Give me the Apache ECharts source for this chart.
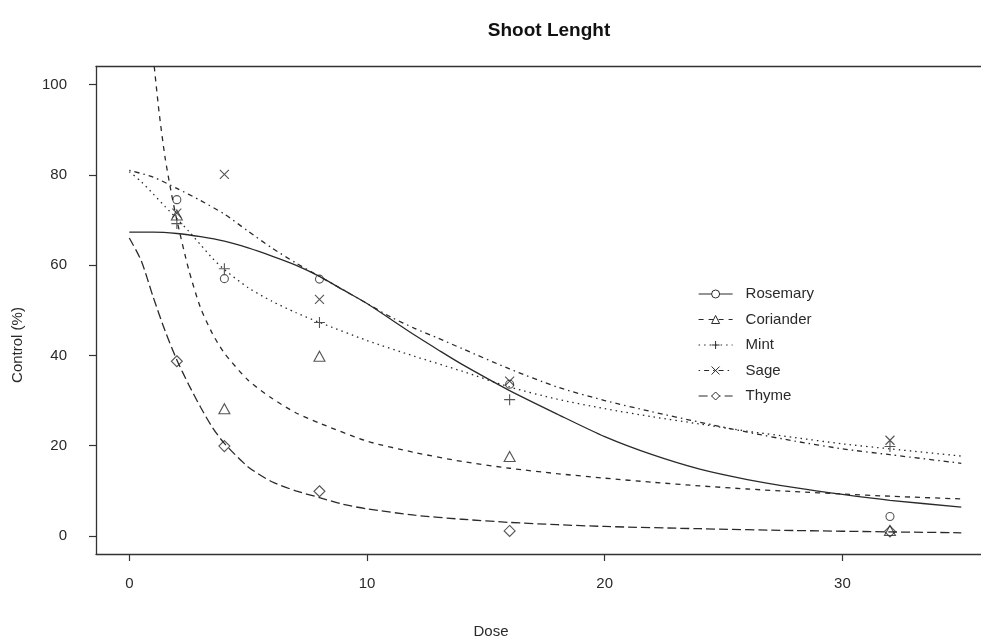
<!DOCTYPE html>
<html>
<head>
<meta charset="utf-8">
<script src="https://cdn.jsdelivr.net/npm/echarts@6/dist/echarts.min.js"></script>
<style>
html,body{margin:0;padding:0;background:#fff;}
#chart{width:981px;height:639px;}
</style>
</head>
<body>
<div id="chart"></div>
<script>
// ---- Observed data points ----
var doses = [2, 4, 8, 16, 32];
var rosemaryPts  = [74.5, 57.0, 56.9, 33.6, 4.3];
var corianderPts = [71.1, 28.2, 39.8, 17.6, 1.2];
var mintPts      = [69.2, 59.2, 47.3, 30.2, 19.8];
var sagePts      = [71.5, 80.1, 52.4, 34.3, 21.2];
var thymePts     = [38.7, 19.9, 9.9, 1.1, 1.0];

// ---- Fitted curves ----
var rosemaryCurveX = [0, 1, 2, 3, 4, 5, 6, 7, 8, 9, 10, 11, 12, 13, 14, 16, 18, 20, 22, 24, 26, 28, 30, 32, 35];
var rosemaryCurveY = [67.3, 67.3, 67.0, 66.3, 65.3, 63.8, 62.0, 60.0, 57.5, 54.5, 51.5, 48.0, 44.5, 41.2, 38.0, 32.2, 27.0, 22.0, 18.0, 14.8, 12.5, 10.7, 9.2, 7.9, 6.4];

var corianderCurveX = [1.05, 1.25, 1.5, 1.75, 2, 2.5, 3, 3.5, 4, 5, 6, 7, 8, 10, 12, 14, 16, 18, 20, 22, 24, 26, 28, 30, 32, 35];
var corianderCurveY = [104, 94, 84, 76.5, 70, 59, 50.5, 44.8, 40.5, 34.5, 30.5, 27.3, 25, 21, 18.5, 16.5, 15, 13.8, 12.8, 11.9, 11.1, 10.4, 9.8, 9.3, 8.8, 8.2];

var mintCurveX = [0, 0.5, 1, 1.5, 2, 2.5, 3, 3.5, 4, 5, 6, 7, 8, 10, 12, 14, 16, 18, 20, 22, 24, 26, 28, 30, 32, 35];
var mintCurveY = [80.7, 78.5, 75.8, 73.0, 70.3, 67.5, 64.5, 61.5, 59.0, 55.0, 52.0, 49.5, 47.3, 43.3, 39.8, 36.5, 33.0, 30.3, 28.2, 26.4, 24.8, 23.2, 21.8, 20.4, 19.3, 17.7];

var sageCurveX = [0, 1, 2, 3, 4, 5, 6, 7, 8, 9, 10, 11, 12, 13, 14, 16, 18, 20, 22, 24, 26, 28, 30, 32, 35];
var sageCurveY = [81.0, 79.5, 77.0, 74.3, 71.3, 67.5, 63.8, 60.5, 57.5, 54.5, 51.5, 48.5, 46.0, 43.8, 41.5, 37.0, 33.0, 30.0, 27.5, 25.2, 23.0, 21.0, 19.3, 18.0, 16.1];

var thymeCurveX = [0, 0.5, 1, 1.5, 2, 2.5, 3, 3.5, 4, 5, 6, 7, 8, 9, 10, 12, 14, 16, 18, 20, 24, 28, 32, 35];
var thymeCurveY = [66.0, 61.0, 53.0, 45.5, 39.0, 33.5, 28.5, 24.0, 20.5, 15.3, 12.0, 10.0, 8.5, 7.0, 6.0, 4.6, 3.7, 3.0, 2.5, 2.1, 1.6, 1.2, 0.9, 0.7];

var xTicks = [0, 10, 20, 30];
var yTicks = [0, 20, 40, 60, 80, 100];

var names = ['Rosemary', 'Coriander', 'Mint', 'Sage', 'Thyme'];
var curvesX = [rosemaryCurveX, corianderCurveX, mintCurveX, sageCurveX, thymeCurveX];
var curvesY = [rosemaryCurveY, corianderCurveY, mintCurveY, sageCurveY, thymeCurveY];
var points = [rosemaryPts, corianderPts, mintPts, sagePts, thymePts];

var INK = '#2a2a2a';
var PLUS = 'path://M5,0L5,10M0,5L10,5';
var CROSS = 'path://M0,0L10,10M10,0L0,10';
var symbols = ['circle', 'triangle', PLUS, CROSS, 'diamond'];
var symSizes = [8, [11, 10], 11, 9, [11, 11]];
var dashes = ['solid', [5, 5], [1.5, 4], [1.5, 4, 5, 4], [9, 4]];

function zip(xs, ys) { return xs.map(function (x, i) { return [x, ys[i]]; }); }

var series = [];
names.forEach(function (n, i) {
  series.push({
    name: n,
    type: 'line',
    data: zip(curvesX[i], curvesY[i]),
    smooth: 0.25,
    showSymbol: false,
    symbol: symbols[i],
    symbolSize: 8,
    clip: true,
    silent: true,
    lineStyle: { color: INK, width: 1.3, type: dashes[i] },
    itemStyle: { color: '#fff', borderColor: INK, borderWidth: 1 },
    emphasis: { disabled: true },
    z: 2
  });
});
names.forEach(function (n, i) {
  series.push({
    name: n + ' obs',
    type: 'scatter',
    data: zip(doses, points[i]),
    symbol: symbols[i],
    symbolSize: symSizes[i],
    silent: true,
    itemStyle: { color: 'rgba(0,0,0,0)', borderColor: INK, borderWidth: 1.1 },
    emphasis: { disabled: true },
    z: 3
  });
});

var FONT = 'Liberation Sans, Arial, sans-serif';
var chart = echarts.init(document.getElementById('chart'), null, { renderer: 'canvas' });
chart.setOption({
  animation: false,
  backgroundColor: '#fff',
  grid: { left: 96, right: 0, top: 66.5, bottom: 85, containLabel: false },
  xAxis: [{
    type: 'value', position: 'bottom', min: -1.401, max: 35.83,
    axisLine: { show: true, onZero: false, lineStyle: { color: '#333', width: 1.3 } },
    axisTick: { show: true, length: 7, customValues: xTicks, lineStyle: { color: '#333', width: 1.2 } },
    axisLabel: { customValues: xTicks, margin: 22, fontSize: 15, color: INK, fontFamily: FONT },
    splitLine: { show: false }
  }, {
    type: 'value', position: 'top', min: -1.401, max: 35.83,
    axisLine: { show: true, onZero: false, lineStyle: { color: '#333', width: 1.3 } },
    axisTick: { show: false }, axisLabel: { show: false }, splitLine: { show: false }
  }],
  yAxis: [{
    type: 'value', position: 'left', min: -4, max: 104,
    axisLine: { show: true, onZero: false, lineStyle: { color: '#333', width: 1.3 } },
    axisTick: { show: true, length: 7, customValues: yTicks, lineStyle: { color: '#333', width: 1.2 } },
    axisLabel: { customValues: yTicks, margin: 29, fontSize: 15, color: INK, fontFamily: FONT },
    splitLine: { show: false }
  }],
  legend: {
    data: names,
    orient: 'vertical',
    left: 693, top: 279,
    itemWidth: 34, itemHeight: 10, itemGap: 5.5,
    selectedMode: false,
    lineStyle: { width: 1.2 },
    itemStyle: { borderWidth: 1 },
    textStyle: { fontSize: 15, color: INK, fontFamily: FONT, lineHeight: 20, padding: [0, 0, 0, 8] }
  },
  graphic: [
    { type: 'text', style: { text: 'Shoot Lenght', x: 549, y: 31, textAlign: 'center', textVerticalAlign: 'middle', font: 'bold 19px ' + FONT, fill: '#111' } },
    { type: 'text', style: { text: 'Dose', x: 491, y: 632, textAlign: 'center', textVerticalAlign: 'middle', font: '15px ' + FONT, fill: INK } },
    { type: 'text', x: 18, y: 345, rotation: Math.PI / 2, style: { text: 'Control (%)', x: 0, y: 0, textAlign: 'center', textVerticalAlign: 'middle', font: '15px ' + FONT, fill: INK } }
  ],
  series: series
});
</script>
</body>
</html>
